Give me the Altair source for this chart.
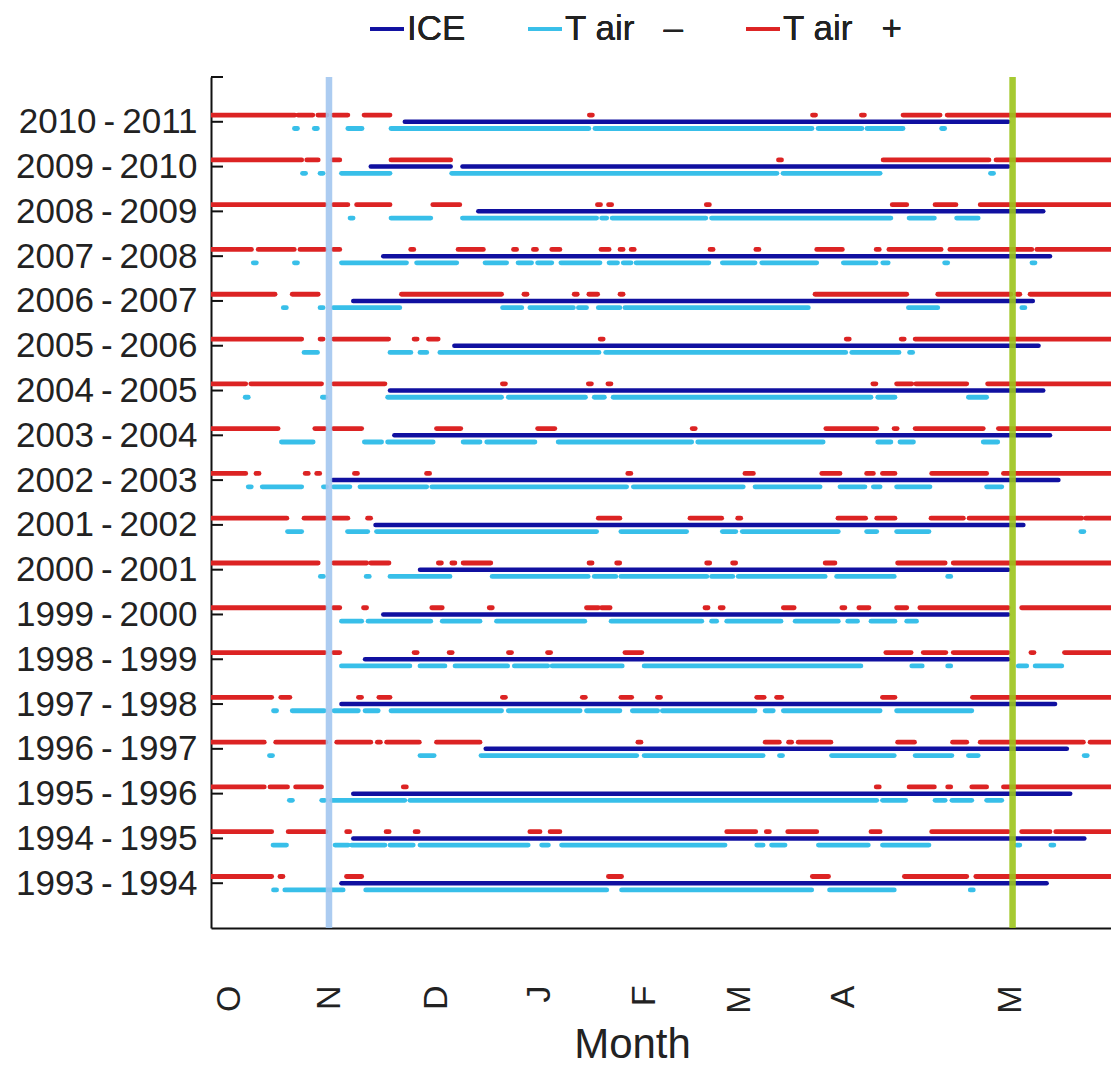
import altair as alt
import pandas as pd

SEASONS = ["1993-1994", "1994-1995", "1995-1996", "1996-1997", "1997-1998", "1998-1999",
           "1999-2000", "2000-2001", "2001-2002", "2002-2003", "2003-2004", "2004-2005",
           "2005-2006", "2006-2007", "2007-2008", "2008-2009", "2009-2010", "2010-2011"]

# x values: days counted from 1 October
MONTH_TICKS = [0, 29.7, 61.4, 92.0, 123.1, 151.3, 181.9, 231.5]
MONTH_LABELS = ["O", "N", "D", "J", "F", "M", "A", "M"]
REF_LINES = [29.4, 232.2]
REF_COLORS = ["#a3c6ef", "#9cc41c"]

ICE = {
    "2010-2011": [[51.9, 230.9]],
    "2009-2010": [[41.8, 65.5], [69.0, 230.9]],
    "2008-2009": [[73.7, 241.3]],
    "2007-2008": [[45.5, 243.3]],
    "2006-2007": [[36.6, 238.2]],
    "2005-2006": [[66.6, 239.9]],
    "2004-2005": [[47.5, 241.3]],
    "2003-2004": [[48.8, 243.3]],
    "2002-2003": [[30.5, 245.8]],
    "2001-2002": [[43.2, 235.4]],
    "2000-2001": [[56.4, 230.9]],
    "1999-2000": [[45.5, 230.9]],
    "1998-1999": [[40.1, 230.9]],
    "1997-1998": [[33.1, 244.8]],
    "1996-1997": [[75.9, 248.3]],
    "1995-1996": [[36.6, 249.3]],
    "1994-1995": [[36.6, 253.5]],
    "1993-1994": [[33.1, 242.3]],
}

T_MINUS = {
    "2010-2011": [[19.6, 19.6], [25.5, 25.5], [35.0, 39.2], [47.8, 106.5], [108.3, 172.7], [174.5, 187.5], [189.0, 199.7], [211.6, 211.6]],
    "2009-2010": [[22.0, 22.0], [27.2, 27.2], [33.1, 47.5], [65.8, 162.3], [164.1, 192.9], [226.1, 226.1]],
    "2008-2009": [[36.1, 36.1], [47.8, 59.6], [69.0, 108.8], [110.3, 111.8], [113.4, 141.2], [142.9, 196.1], [201.5, 209.0], [215.6, 222.0]],
    "2007-2008": [[7.4, 7.4], [19.6, 19.6], [33.1, 52.4], [55.4, 67.3], [75.7, 82.1], [85.5, 89.5], [91.3, 95.5], [98.2, 109.8], [112.5, 115.0], [116.7, 119.0], [120.5, 142.1], [146.1, 155.8], [157.8, 174.1], [182.0, 191.7], [193.7, 195.3], [212.5, 212.5], [238.4, 238.4]],
    "2006-2007": [[16.3, 16.3], [27.2, 27.2], [30.7, 50.4], [80.9, 86.6], [89.0, 101.9], [103.4, 105.8], [109.3, 115.7], [117.2, 171.6], [201.3, 210.0], [235.4, 235.4]],
    "2005-2006": [[22.0, 26.0], [47.5, 53.7], [56.4, 58.4], [62.3, 109.5], [111.5, 182.7], [184.5, 198.5], [202.1, 202.1]],
    "2004-2005": [[5.0, 5.0], [27.9, 27.9], [46.8, 80.6], [82.6, 105.5], [108.1, 111.1], [113.7, 190.2], [192.2, 197.3], [219.1, 224.5]],
    "2003-2004": [[15.3, 24.7], [39.9, 45.0], [46.8, 60.3], [69.2, 74.2], [76.2, 90.5], [97.4, 137.0], [138.8, 176.0], [192.2, 196.1], [198.8, 202.8], [223.5, 227.8]],
    "2002-2003": [[5.9, 5.9], [9.6, 21.3], [28.2, 28.2], [30.7, 35.6], [38.6, 58.4], [59.9, 117.7], [119.7, 152.3], [155.8, 175.1], [181.0, 188.4], [190.9, 192.9], [197.8, 207.7], [224.5, 229.0]],
    "2001-2002": [[17.1, 21.3], [34.9, 40.9], [43.5, 108.8], [116.0, 135.5], [146.1, 150.1], [152.0, 180.5], [188.9, 191.9], [197.8, 207.4], [252.9, 252.9]],
    "2000-2001": [[27.3, 27.3], [40.9, 40.9], [47.5, 65.3], [77.8, 106.3], [108.1, 114.5], [116.0, 141.5], [142.9, 149.2], [150.8, 176.6], [180.0, 197.1], [213.4, 213.4]],
    "1999-2000": [[33.1, 39.1], [41.0, 59.6], [63.0, 74.2], [79.1, 105.3], [113.1, 140.0], [142.9, 144.4], [147.4, 163.5], [167.7, 180.5], [183.3, 186.2], [190.2, 197.3], [200.8, 203.7]],
    "1998-1999": [[33.1, 53.4], [56.4, 63.8], [66.8, 82.4], [84.4, 94.3], [95.6, 116.4], [122.9, 187.2], [202.3, 205.4], [213.4, 213.4], [233.9, 236.4], [238.9, 246.8]],
    "1997-1998": [[13.4, 13.4], [18.5, 28.0], [30.9, 38.1], [40.1, 44.0], [47.8, 80.6], [82.6, 103.9], [105.8, 115.7], [119.4, 126.9], [128.3, 155.8], [158.8, 161.2], [164.2, 192.9], [197.8, 220.1]],
    "1996-1997": [[12.2, 12.2], [56.4, 60.6], [74.5, 120.7], [122.9, 158.2], [163.5, 163.5], [178.5, 197.1], [203.3, 214.2], [219.1, 222.0], [253.9, 253.9]],
    "1995-1996": [[18.1, 18.1], [27.7, 27.7], [30.2, 51.9], [53.4, 191.9], [193.6, 200.5], [209.2, 212.2], [214.2, 220.1], [224.5, 229.0]],
    "1994-1995": [[12.8, 16.8], [31.2, 35.1], [36.1, 46.0], [47.5, 54.4], [56.4, 88.5], [92.5, 94.5], [98.4, 146.9], [156.3, 158.2], [160.7, 164.7], [174.6, 189.4], [193.6, 207.4], [233.9, 233.9], [244.0, 244.0]],
    "1993-1994": [[13.4, 13.4], [16.3, 33.6], [40.3, 111.8], [116.2, 172.6], [177.9, 197.1], [220.1, 220.1]],
}

T_PLUS = {
    "2010-2011": [[-6, 19.3], [20.2, 24.6], [26.1, 28.8], [30.6, 35.0], [39.8, 47.5], [107.1, 107.1], [173.3, 173.3], [187.8, 187.8], [199.7, 210.7], [212.8, 270]],
    "2009-2010": [[-6, 21.3], [22.8, 26.2], [30.5, 32.6], [47.8, 65.5], [163.2, 163.2], [193.8, 225.2], [227.3, 270]],
    "2008-2009": [[-6, 28.2], [30.7, 35.0], [37.6, 47.5], [60.2, 68.2], [109.5, 109.5], [112.8, 112.8], [141.8, 141.8], [196.5, 200.8], [209.2, 215.4], [222.6, 270]],
    "2007-2008": [[-6, 6.4], [8.4, 19.1], [20.8, 28.2], [30.7, 32.6], [54.1, 54.1], [67.7, 75.2], [84.6, 84.6], [90.5, 90.5], [95.5, 97.9], [110.1, 112.5], [116.2, 116.2], [119.5, 119.5], [142.9, 142.9], [156.5, 156.5], [174.1, 181.7], [192.2, 192.2], [195.5, 211.0], [213.6, 237.9], [239.4, 270]],
    "2006-2007": [[-6, 13.4], [18.5, 26.2], [50.9, 80.6], [87.7, 87.7], [102.6, 102.6], [106.5, 109.1], [116.2, 116.2], [173.6, 200.8], [210.0, 231.7], [233.9, 233.9], [237.4, 270]],
    "2005-2006": [[-6, 21.3], [27.2, 27.2], [30.7, 47.1], [55.1, 55.1], [58.9, 61.8], [110.3, 110.3], [183.3, 183.3], [199.6, 199.6], [203.3, 270]],
    "2004-2005": [[-6, 4.7], [6.2, 27.2], [30.7, 46.0], [81.3, 81.3], [106.8, 106.8], [112.6, 112.6], [191.2, 191.2], [197.8, 202.3], [203.5, 218.6], [224.8, 270]],
    "2003-2004": [[-6, 14.3], [25.2, 28.2], [30.7, 39.1], [61.3, 68.5], [91.3, 96.4], [137.6, 137.6], [176.8, 191.9], [197.5, 197.5], [203.3, 223.5], [228.0, 270]],
    "2002-2003": [[-6, 4.7], [8.2, 8.2], [22.8, 22.8], [26.2, 26.2], [37.4, 37.4], [58.8, 58.8], [118.5, 118.5], [152.8, 155.3], [175.6, 181.0], [188.9, 190.9], [193.6, 197.3], [208.2, 224.5], [229.5, 270]],
    "2001-2002": [[-6, 16.9], [22.0, 28.2], [30.7, 35.0], [41.3, 41.3], [109.3, 115.7], [136.5, 145.9], [151.1, 151.1], [180.4, 188.6], [191.9, 197.3], [208.0, 217.6], [219.3, 252.7], [253.9, 270]],
    "2000-2001": [[-6, 26.2], [30.7, 40.6], [41.8, 47.2], [62.3, 62.3], [66.3, 66.3], [69.2, 77.4], [107.0, 107.0], [115.2, 115.2], [141.9, 141.9], [149.6, 149.6], [176.6, 179.5], [198.1, 212.2], [214.6, 270]],
    "1999-2000": [[-6, 28.2], [30.7, 32.6], [40.1, 40.1], [59.9, 63.0], [77.4, 77.4], [105.8, 109.3], [110.3, 112.8], [141.4, 141.4], [145.9, 145.9], [164.2, 167.4], [182.0, 182.0], [186.6, 189.6], [197.8, 200.8], [204.7, 230.9], [234.9, 270]],
    "1998-1999": [[-6, 28.2], [30.7, 32.6], [55.1, 55.1], [65.5, 65.5], [83.1, 83.1], [94.7, 94.7], [117.2, 122.2], [194.6, 202.1], [205.7, 212.4], [214.6, 230.9], [238.1, 238.1], [247.6, 270]],
    "1997-1998": [[-6, 12.4], [15.1, 17.8], [38.6, 38.6], [44.2, 47.5], [81.3, 81.3], [105.0, 105.0], [116.0, 119.2], [127.3, 127.3], [156.3, 158.5], [162.2, 163.7], [193.6, 197.3], [220.3, 270]],
    "1996-1997": [[-6, 10.2], [13.6, 28.5], [31.7, 41.8], [44.2, 44.2], [46.5, 56.2], [61.3, 74.2], [121.5, 121.5], [158.8, 163.0], [166.2, 166.2], [168.6, 178.3], [198.1, 203.1], [214.4, 218.6], [222.6, 253.2], [255.2, 270]],
    "1995-1996": [[-6, 10.2], [11.9, 17.1], [19.5, 27.2], [51.9, 51.9], [192.2, 192.2], [201.5, 209.0], [213.4, 213.4], [220.1, 224.5], [229.5, 270]],
    "1994-1995": [[-6, 12.4], [17.3, 28.5], [35.1, 35.1], [46.8, 46.8], [55.4, 55.4], [89.0, 92.0], [95.0, 97.9], [147.4, 156.0], [159.6, 159.6], [165.5, 174.1], [190.2, 192.9], [208.2, 230.9], [234.9, 243.3], [245.0, 270]],
    "1993-1994": [[-6, 12.4], [15.3, 15.3], [34.6, 39.1], [112.3, 116.2], [172.8, 177.6], [200.1, 218.6], [221.3, 270]],
}

SERIES = ["ICE", "T air \u2013", "T air +"]
COLORS = ["#1010a0", "#38bfe9", "#dc2323"]

rows = []
for name, table in zip(SERIES, [ICE, T_MINUS, T_PLUS]):
    for season, segs in table.items():
        idx = SEASONS.index(season) + 1
        for s, e in segs:
            if e - s < 0.9:
                s, e = s - 0.45, e + 0.45
            rows.append({"series": name, "season": season, "idx": idx, "start": s, "end": e})
df = pd.DataFrame(rows)

FONT = "Liberation Sans"
XDOM = [-5.6, 261.4]

y_label_expr = "replace([" + ",".join("'%s'" % s for s in SEASONS) + \
    "][datum.value - 1], '-', '\u2009-\u2009')"
x_label_expr = "[" + ",".join("'%s'" % s for s in MONTH_LABELS) + "][indexof([" + \
    ",".join(str(v) for v in MONTH_TICKS) + "], datum.value)]"

x_scale = alt.Scale(domain=XDOM, nice=False, zero=False)
y_scale = alt.Scale(domain=[0, 19], nice=False, zero=False)
color_scale = alt.Scale(domain=SERIES, range=COLORS)

x_axis = alt.Axis(values=MONTH_TICKS, labelExpr=x_label_expr, labelAngle=270, labelFontSize=34,
                  labelFont=FONT, labelColor="#222222", ticks=False, grid=False,
                  domainColor="#111111", domainWidth=2, labelPadding=57,
                  title="Month", titleFont=FONT, titleFontSize=42, titleFontWeight="normal",
                  titleColor="#222222", titleX=421, titleY=129, titleAlign="center",
                  titleBaseline="alphabetic", labelFlush=False, labelOverlap=False)
y_axis = alt.Axis(values=list(range(1, 19)), labelExpr=y_label_expr, labelFontSize=35,
                  labelFont=FONT, labelColor="#222222", ticks=False, grid=False,
                  labelLimit=400, labelOverlap=False,
                  domainColor="#111111", domainWidth=2, labelPadding=14, title=None)

base = alt.Chart(df)

def layer(series, offset, width):
    return base.transform_filter(alt.datum.series == series).mark_rule(
        strokeWidth=width, strokeCap="round", yOffset=offset, clip=True
    ).encode(
        x=alt.X("start:Q", scale=x_scale, axis=x_axis),
        x2="end:Q",
        y=alt.Y("idx:Q", scale=y_scale, axis=y_axis),
        color=alt.Color("series:N", scale=color_scale, legend=alt.Legend(
            title=None, labelLimit=400,
            labelExpr="replace(datum.label, 'air ', 'air\u00a0\u00a0\u00a0')")),
    )

plus_layer = layer("T air +", -6.7, 4.8)
minus_layer = layer("T air \u2013", 6.7, 4.8)
ice_layer = layer("ICE", 0, 4.5)

ticks_df = pd.DataFrame({"idx": list(range(1, 20))})
tick_layer = alt.Chart(ticks_df).mark_rule(color="#111111", strokeWidth=2).encode(
    y=alt.Y("idx:Q", scale=y_scale, axis=y_axis),
    x=alt.value(0), x2=alt.value(12)
)

ref_df = pd.DataFrame({"start": REF_LINES, "col": REF_COLORS})
ref_layer = alt.Chart(ref_df).mark_rule(strokeWidth=6.5, opacity=0.9).encode(
    x=alt.X("start:Q", scale=x_scale, axis=x_axis),
    color=alt.Color("col:N", scale=None, legend=None)
)

chart = alt.layer(plus_layer, minus_layer, ice_layer, tick_layer, ref_layer).resolve_scale(
    color="independent"
).properties(
    width=900, height=851,
    autosize=alt.AutoSizeParams(type="none"),
    padding={"left": 203, "top": 69, "right": 0, "bottom": 137},
).configure_view(stroke=None).configure_legend(
    orient="none", legendX=157, legendY=-67, direction="horizontal",
    labelFont=FONT, labelFontSize=35, labelColor="#222222",
    symbolType="stroke", symbolSize=1150, symbolStrokeWidth=3.5,
    columnPadding=55, labelOffset=1, columns=3
)

chart.save("out.html", embed_options={"renderer": "svg", "actions": False})
